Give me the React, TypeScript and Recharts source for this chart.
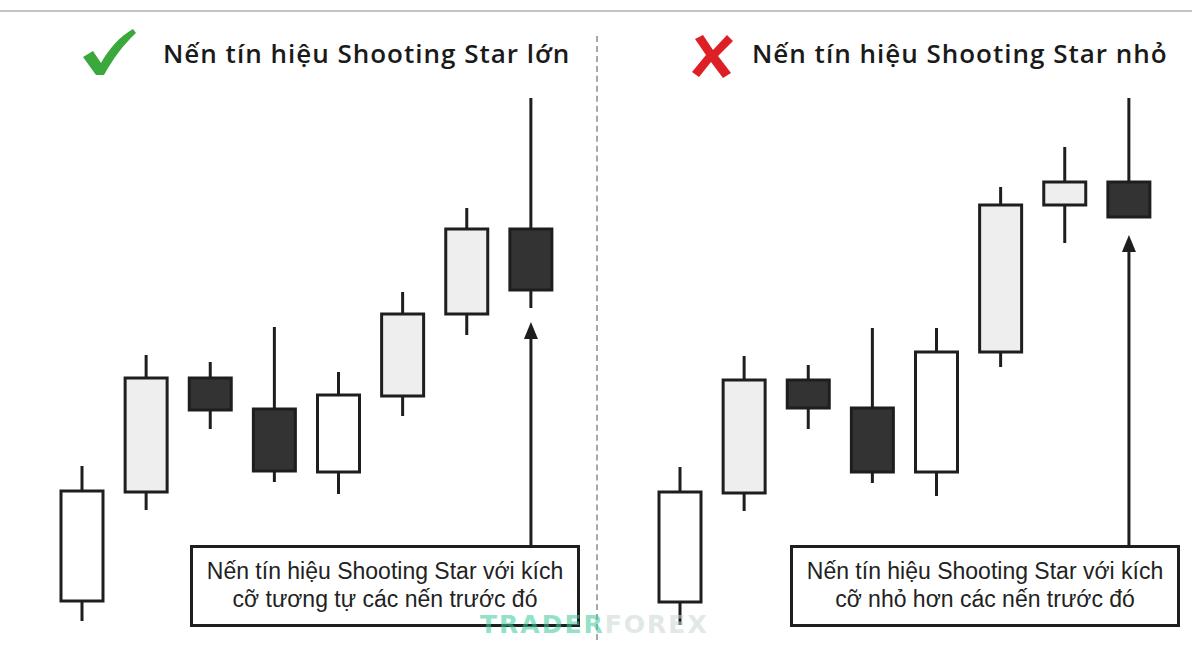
import React from "react";
import { ComposedChart, Bar, XAxis, YAxis, ReferenceLine, ReferenceDot } from "recharts";

// 8 candles per panel, price units (0..108 scale)
const CANDLES = ["c1", "c2", "c3", "c4", "c5", "c6", "c7", "c8"];
const TONES = ["white", "gray", "dark", "dark", "white", "gray", "gray", "dark"];

const BIG_OPEN = [5.8, 27.6, 50.4, 44.2, 31.6, 46.8, 63.2, 80.2];
const BIG_CLOSE = [27.8, 50.4, 44, 31.8, 47, 63.2, 80.2, 68];
const BIG_HIGH = [32.8, 55, 53.6, 60.6, 51.6, 67.6, 84.4, 106.4];
const BIG_LOW = [1.8, 24, 40.2, 29.6, 27.2, 42.8, 59, 64.4];

const SMALL_OPEN = [5.6, 27.4, 50, 44.4, 31.6, 55.6, 85, 89.6];
const SMALL_CLOSE = [27.6, 50, 44.4, 31.6, 55.6, 85, 89.6, 82.6];
const SMALL_HIGH = [32.6, 54.8, 53, 60.4, 60.4, 88.6, 96.6, 106.4];
const SMALL_LOW = [1, 23.8, 40.2, 29.4, 26.8, 52.6, 77.4, 82.6];

const ARROW_BASE = 17;
const BIG_ARROW_TIP = 61.6;
const SMALL_ARROW_TIP = 79;

const FILL: Record<string, string> = { white: "#ffffff", gray: "#eeeeee", dark: "#333333" };
const INK = "#1e1e1e";

function build(open: number[], close: number[], high: number[], low: number[]) {
  return CANDLES.map((name, i) => ({
    name,
    open: open[i],
    close: close[i],
    high: high[i],
    low: low[i],
    tone: TONES[i],
  }));
}

const bigData = build(BIG_OPEN, BIG_CLOSE, BIG_HIGH, BIG_LOW);
const smallData = build(SMALL_OPEN, SMALL_CLOSE, SMALL_HIGH, SMALL_LOW);

function Candle(props: any) {
  const { x, y, width, height, payload } = props;
  const { open, close, high, low, tone } = payload;
  const k = height / (high - low);
  const cx = x + width / 2;
  const top = y + (high - Math.max(open, close)) * k;
  const bot = y + (high - Math.min(open, close)) * k;
  return (
    <g>
      <line x1={cx} x2={cx} y1={y} y2={y + height} stroke={INK} strokeWidth={3} />
      <rect x={x} y={top} width={width} height={Math.max(bot - top, 1)} fill={FILL[tone]} stroke={INK} strokeWidth={3} />
    </g>
  );
}

function ArrowHead(props: any) {
  const { cx, cy } = props;
  return <path d={`M${cx},${cy} l-7,17 l14,0 z`} fill={INK} />;
}

function CandlePanel({ data, tip }: { data: any[]; tip: number }) {
  return (
    <ComposedChart width={596} height={645} data={data} margin={{ top: 90, right: 33, bottom: 15, left: 50 }}>
      <XAxis dataKey="name" hide />
      <YAxis domain={[0, 108]} hide />
      <Bar dataKey={(d: any) => [d.low, d.high]} barSize={42} shape={<Candle />} isAnimationActive={false} />
      <ReferenceLine
        segment={[
          { x: "c8", y: ARROW_BASE },
          { x: "c8", y: tip - 2 },
        ]}
        stroke={INK}
        strokeWidth={3}
      />
      <ReferenceDot x="c8" y={tip} r={0} shape={<ArrowHead />} />
    </ComposedChart>
  );
}

function Check() {
  return (
    <svg width={58} height={50} viewBox="0 0 58 50" style={{ position: "absolute", left: 79, top: 27 }}>
      <path d="M4,30 L14,24 L22,36 C30,22 40,10 54,2 L57,6 C44,18 34,32 25,48 L17,48 Z" fill="#3aa83a" />
    </svg>
  );
}

function Cross() {
  return (
    <svg width={48} height={46} viewBox="0 0 48 46" style={{ position: "absolute", left: 689, top: 33 }}>
      <path d="M6,6 L14,2 L24,17 L38,2 L44,8 L29,23 L42,40 L34,45 L22,29 L10,44 L3,39 L17,22 Z" fill="#dd1f26" />
    </svg>
  );
}

const titleStyle: React.CSSProperties = {
  position: "absolute",
  top: 36,
  fontFamily: "'Open Sans', 'Liberation Sans', sans-serif",
  fontWeight: 600,
  fontSize: 26,
  letterSpacing: 1,
  lineHeight: "34px",
  color: "#1a1a1a",
  whiteSpace: "nowrap",
};

const boxStyle: React.CSSProperties = {
  position: "absolute",
  top: 545,
  width: 390,
  height: 82,
  boxSizing: "border-box",
  border: `3px solid ${INK}`,
  background: "#fff",
  fontFamily: "'Liberation Sans', Arial, sans-serif",
  fontSize: 23,
  lineHeight: "28px",
  color: "#222",
  textAlign: "center",
  paddingTop: 9,
  whiteSpace: "nowrap",
};

export default function App() {
  return (
    <div style={{ position: "absolute", left: 0, top: 0, width: 1192, height: 645, background: "#fff", overflow: "hidden" }}>
      <div style={{ position: "absolute", left: 0, top: 10, width: 1192, height: 2, background: "#c4c4c4" }} />
      <div
        style={{
          position: "absolute",
          left: 596,
          top: 36,
          height: 604,
          width: 0,
          borderLeft: "2px dashed #a8a8a8",
        }}
      />
      <Check />
      <div style={{ ...titleStyle, left: 163 }}>Nến tín hiệu Shooting Star lớn</div>
      <Cross />
      <div style={{ ...titleStyle, left: 752 }}>Nến tín hiệu Shooting Star nhỏ</div>

      <div style={{ position: "absolute", left: 0, top: 0 }}>
        <CandlePanel data={bigData} tip={BIG_ARROW_TIP} />
      </div>
      <div style={{ position: "absolute", left: 598, top: 0 }}>
        <CandlePanel data={smallData} tip={SMALL_ARROW_TIP} />
      </div>

      <div style={{ ...boxStyle, left: 190 }}>
        Nến tín hiệu Shooting Star với kích
        <br />
        cỡ tương tự các nến trước đó
      </div>
      <div style={{ ...boxStyle, left: 790 }}>
        Nến tín hiệu Shooting Star với kích
        <br />
        cỡ nhỏ hơn các nến trước đó
      </div>

      <div
        style={{
          position: "absolute",
          left: 480,
          top: 612,
          fontFamily: "'DejaVu Sans', sans-serif",
          fontWeight: 700,
          fontSize: 25,
          lineHeight: "25px",
          letterSpacing: 2,
          opacity: 0.55,
          whiteSpace: "nowrap",
        }}
      >
        <span style={{ color: "#3cc99a" }}>TRADER</span>
        <span style={{ color: "#c9d6d2" }}>FOREX</span>
      </div>
    </div>
  );
}
